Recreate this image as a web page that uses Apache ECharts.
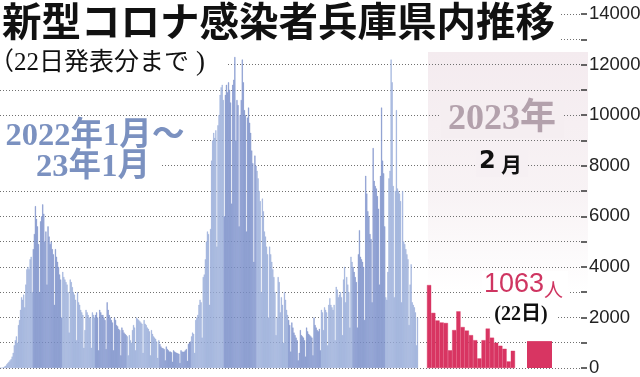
<!DOCTYPE html>
<html>
<head>
<meta charset="utf-8">
<script src="https://cdn.jsdelivr.net/npm/echarts/dist/echarts.min.js"></script>
<style>
html, body { margin: 0; padding: 0; background: #fff; }
#chart { width: 640px; height: 377px; }
</style>
</head>
<body>
<div id="chart"></div>
<script>
// 日別感染者数（2022年1月〜2023年1月）
const jan22 = [10, 15, 20, 30, 60, 90, 150, 200, 250, 300, 350, 450, 600, 900, 1100, 1250, 1000, 1700, 1900, 2300, 2800, 2700, 2900, 2400, 3300, 3900, 4000, 3900, 4300, 4400, 3000]
const feb22 = [4700, 5300, 6400, 5900, 5600, 4900, 3000, 5800, 6000, 6470, 6100, 5000, 5400, 3300, 5600, 5200, 4900, 5000, 4700, 4500, 2500, 4700, 4400, 4200, 4000, 3700, 3500, 2000]
const mar22 = [3800, 3600, 3500, 3400, 3300, 3000, 1400, 3500, 3400, 3200, 3000, 2900, 2700, 1100, 3000, 2600, 2500, 2300, 2200, 2100, 800, 1500, 2300, 2200, 2100, 2000, 2000, 800, 2200, 2100, 2000]
const apr22 = [2100, 2200, 2000, 700, 2300, 2200, 2100, 2100, 2000, 1900, 750, 2600, 2300, 2100, 2000, 1900, 1800, 700, 2000, 1900, 1700, 1650, 1550, 1500, 500, 1600, 1500, 1400, 1350, 1300]
const may22 = [1250, 500, 1300, 1100, 1000, 1500, 1700, 1600, 700, 2000, 1950, 1900, 1850, 1800, 1750, 600, 1900, 1750, 1700, 1600, 1550, 1450, 500, 1500, 1350, 1250, 1200, 1150, 1050, 400, 1100]
const jun22 = [950, 850, 800, 780, 750, 300, 850, 750, 700, 650, 650, 620, 250, 700, 650, 620, 600, 580, 560, 200, 700, 650, 640, 650, 700, 750, 280, 950, 1000, 1050]
const jul22 = [1250, 1400, 1350, 600, 1900, 2000, 2100, 2500, 2700, 2600, 1200, 3600, 3700, 4300, 5000, 5400, 5300, 2500, 5500, 8200, 9000, 9300, 9100, 9400, 4800, 9600, 10000, 10800, 11100, 11200, 10600]
const aug22 = [6000, 10800, 11200, 10900, 11300, 11000, 10500, 6500, 11200, 11400, 12300, 9000, 10600, 10400, 5600, 10000, 10600, 12200, 11300, 10200, 10000, 5400, 9900, 10300, 9700, 9300, 8600, 8100, 4200, 8400, 8000]
const sep22 = [7800, 7500, 7000, 6600, 3000, 6700, 6200, 5400, 5200, 4800, 4500, 2000, 4800, 4500, 4200, 3900, 3600, 3000, 1300, 2000, 3600, 3400, 2200, 2800, 2500, 1000, 3000, 2700, 2300, 2100]
const oct22 = [1900, 1700, 650, 1800, 1600, 1400, 1300, 1200, 1100, 300, 600, 1500, 1300, 1250, 1200, 1100, 450, 1600, 1450, 1350, 1300, 1250, 1200, 500, 2000, 1700, 1600, 1500, 1450, 1550, 700]
const nov22 = [2300, 2200, 1500, 2400, 2300, 2200, 900, 2500, 2760, 2500, 2400, 2300, 2500, 1100, 3210, 3100, 2800, 2900, 3000, 2800, 1300, 3500, 4000, 2600, 3600, 3300, 3000, 1600, 4400, 4200]
const dec22 = [4000, 3800, 3600, 3400, 1600, 4500, 5450, 4400, 4300, 4200, 4000, 1900, 7600, 6900, 6200, 6000, 5300, 5100, 2600, 8700, 7400, 7200, 7100, 6800, 6300, 3300, 7600, 10300, 8200, 7700, 5600]
const jan23 = [2800, 2700, 3800, 7500, 7800, 12200, 11300, 7200, 2800, 7000, 10200, 7100, 7000, 6900, 6600, 2600, 7000, 5000, 4900, 4700, 4500, 4300, 1700, 3300, 4100, 2600, 2500, 2400, 2200, 900, 2000]

// 2023年2月（1日〜21日）と最新の22日
const feb23Days = ['1日', '2日', '3日', '4日', '5日', '6日', '7日', '8日', '9日', '10日', '11日', '12日', '13日', '14日', '15日', '16日', '17日', '18日', '19日', '20日', '21日']
const feb23Values = [3280, 2180, 1880, 1800, 1780, 700, 1500, 2240, 1620, 1480, 1300, 1100, 380, 1100, 1560, 1200, 1000, 880, 760, 260, 680]
const latestDay = ['22日']
const latestValue = [1063]

const yTicks = [0, 2000, 4000, 6000, 8000, 10000, 12000, 14000]

const months = [jan22, feb22, mar22, apr22, may22, jun22, jul22, aug22, sep22, oct22, nov22, dec22, jan23]

const LIGHT = '#98acd9'
const DARK = '#7c91c9'
const RED = '#d83562'
const SERIF = '"Liberation Serif", "Noto Sans CJK JP", serif'
const GOTHIC = '"Noto Sans CJK JP", sans-serif'

// 月ごとに色を交互に
const blueDates = []
const blueData = []
months.forEach((arr, m) => {
    const year = m < 12 ? 2022 : 2023
    const c = m % 2 ? DARK : LIGHT
    arr.forEach((v, i) => {
        blueDates.push(year + '/' + (m % 12 + 1) + '/' + (i + 1))
        blueData.push({ value: v, itemStyle: { color: c, borderColor: c, borderWidth: 0.4 } })
    })
})

const TOP = 14
const BOTTOM = 9
const gridBase = { top: TOP, bottom: BOTTOM, containLabel: false, outerBoundsMode: 'none' }
const hiddenY = (i) => ({ gridIndex: i, type: 'value', min: 0, max: 14000, show: false, splitLine: { show: false } })

const myChart = echarts.init(document.getElementById('chart'), null, { renderer: 'canvas' })

const option = {
    animation: false,
    grid: [
        Object.assign({ left: 0, right: 59 }, gridBase),
        Object.assign({ left: 0, width: 418 }, gridBase),
        Object.assign({ left: 427, width: 88 }, gridBase),
        Object.assign({ left: 527, width: 25 }, gridBase)
    ],
    xAxis: [
        { gridIndex: 0, type: 'category', data: [''], show: false },
        { gridIndex: 1, type: 'category', data: blueDates, show: false },
        { gridIndex: 2, type: 'category', data: feb23Days, show: false },
        { gridIndex: 3, type: 'category', data: latestDay, show: false }
    ],
    yAxis: [
        {
            gridIndex: 0,
            type: 'value',
            position: 'right',
            min: 0,
            max: 14000,
            interval: 1000,
            axisLine: { show: false, onZero: false },
            axisTick: { show: true, inside: false, length: 6, lineStyle: { color: '#333', width: 1.5 } },
            splitLine: { show: true, lineStyle: { color: '#707070', type: [1, 2], width: 1 } },
            axisLabel: {
                margin: 8,
                color: '#222',
                fontSize: 18.5,
                fontFamily: '"Liberation Sans", sans-serif',
                formatter: (v) => (yTicks.indexOf(v) >= 0 ? String(v) : '')
            }
        },
        hiddenY(1),
        hiddenY(2),
        hiddenY(3)
    ],
    series: [
        {
            type: 'bar',
            xAxisIndex: 1,
            yAxisIndex: 1,
            data: blueData,
            barCategoryGap: '0%'
        },
        {
            type: 'bar',
            xAxisIndex: 2,
            yAxisIndex: 2,
            data: feb23Values,
            barCategoryGap: '0%',
            itemStyle: { color: RED, borderColor: RED, borderWidth: 0.4 }
        },
        {
            type: 'bar',
            xAxisIndex: 3,
            yAxisIndex: 3,
            data: latestValue,
            barCategoryGap: '0%',
            itemStyle: { color: RED }
        }
    ],
    graphic: [
        // 2023年2月の背景
        {
            type: 'rect', z: -1,
            shape: { x: 428, y: 52, width: 160, height: 240 },
            style: {
                fill: new echarts.graphic.LinearGradient(0, 0, 0, 1, [
                    { offset: 0, color: '#f4ebef' },
                    { offset: 0.6, color: '#f8f3f5' },
                    { offset: 1, color: '#ffffff' }
                ])
            }
        },
        // 文字の下地
        { type: 'rect', z: 100, shape: { x: 0, y: 0, width: 560, height: 43 }, style: { fill: '#fff' } },
        { type: 'rect', z: 100, shape: { x: 0, y: 46, width: 227, height: 34 }, style: { fill: '#fff' } },
        { type: 'rect', z: 100, shape: { x: 0, y: 121, width: 192, height: 32 }, style: { fill: '#fff' } },
        { type: 'rect', z: 100, shape: { x: 0, y: 153, width: 160, height: 30 }, style: { fill: '#fff' } },
        { type: 'rect', z: 100, shape: { x: 441, y: 102, width: 123, height: 36 }, style: { fill: '#f5eef1' } },
        { type: 'rect', z: 100, shape: { x: 476, y: 150, width: 52, height: 27 }, style: { fill: '#f6f0f3' } },
        { type: 'rect', z: 100, shape: { x: 482, y: 271, width: 86, height: 28 }, style: { fill: '#fff' } },
        { type: 'rect', z: 100, shape: { x: 491, y: 302, width: 66, height: 27 }, style: { fill: '#fff' } },
        // 見出し
        {
            type: 'text', z: 101, x: 2, y: 21,
            style: { text: '新型コロナ感染者兵庫県内推移', fill: '#111', font: 'bold 39.5px ' + GOTHIC, textVerticalAlign: 'middle' }
        },
        {
            type: 'text', z: 101, x: -11, y: 63,
            style: { text: '（22日発表分まで', fill: '#111', font: '25px ' + SERIF, textVerticalAlign: 'middle' }
        },
        {
            type: 'text', z: 101, x: 196, y: 63,
            style: { text: ')', fill: '#111', font: '27px "Liberation Serif", serif', textVerticalAlign: 'middle' }
        },
        {
            type: 'text', z: 101, x: 95, y: 137,
            style: { text: '2022年1月〜', fill: '#7b91c0', font: 'bold 32.5px ' + SERIF, textAlign: 'center', textVerticalAlign: 'middle' }
        },
        {
            type: 'text', z: 101, x: 93, y: 168,
            style: { text: '23年1月', fill: '#7b91c0', font: 'bold 32.5px ' + SERIF, textAlign: 'center', textVerticalAlign: 'middle' }
        },
        {
            type: 'text', z: 101, x: 502, y: 120,
            style: { text: '2023年', fill: '#b3a1ac', font: 'bold 36px ' + SERIF, textAlign: 'center', textVerticalAlign: 'middle' }
        },
        {
            type: 'text', z: 101, x: 479, y: 162,
            style: { text: '2', fill: '#111', font: 'bold 24px "DejaVu Sans", sans-serif', textVerticalAlign: 'middle' }
        },
        {
            type: 'text', z: 101, x: 501, y: 164,
            style: { text: '月', fill: '#111', font: 'bold 21px ' + GOTHIC, textVerticalAlign: 'middle' }
        },
        {
            type: 'text', z: 101, x: 484, y: 285,
            style: { text: '1063', fill: '#cf3561', font: '27px "Liberation Sans", sans-serif', textVerticalAlign: 'middle' }
        },
        {
            type: 'text', z: 101, x: 544, y: 290,
            style: { text: '人', fill: '#cf3561', font: '19px ' + GOTHIC, textVerticalAlign: 'middle' }
        },
        {
            type: 'text', z: 101, x: 521, y: 315,
            style: { text: '(22日)', fill: '#111', font: 'bold 20px ' + SERIF, textAlign: 'center', textVerticalAlign: 'middle' }
        }
    ]
}

myChart.setOption(option)
</script>
</body>
</html>
